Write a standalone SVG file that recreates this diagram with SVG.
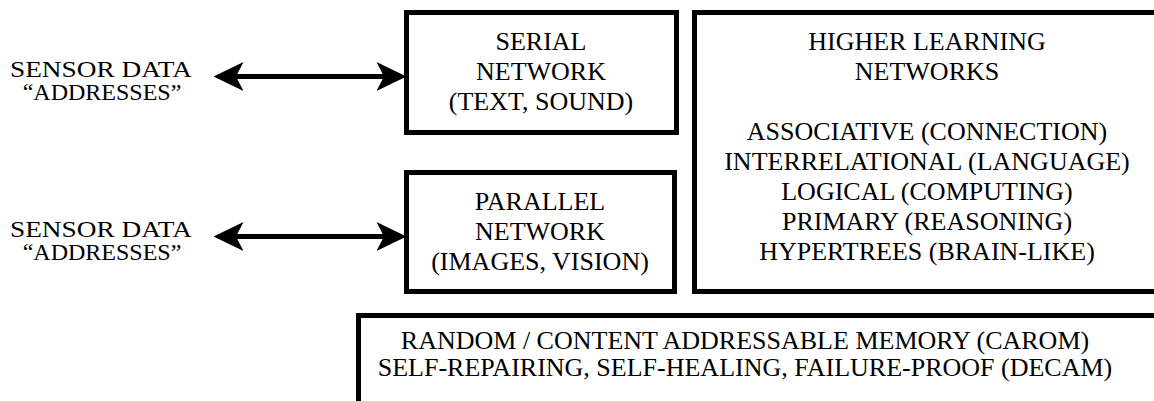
<svg xmlns="http://www.w3.org/2000/svg" width="1154" height="401" viewBox="0 0 1154 401">
<style>
.box{fill:#fff;stroke:#000;stroke-width:5}
.t{font-family:"Liberation Serif","Times New Roman",serif;font-size:26px;fill:#000;text-anchor:middle}
.lbl{font-family:"Liberation Serif","Times New Roman",serif;font-size:24px;fill:#000;text-anchor:middle}
.conn{stroke:#000;stroke-width:5;fill:none}
</style>
<defs>
<marker id="ah" markerUnits="userSpaceOnUse" markerWidth="30" markerHeight="30" viewBox="0 0 28 27" refX="7" refY="13.5" orient="auto-start-reverse">
<path d="M0,0 L28,13.5 L0,27 L7,13.5 Z" fill="#000"/>
</marker>
</defs>
<rect width="1154" height="401" fill="#fff"/>
<g id="sensor1">
<text class="lbl" x="101" y="77" textLength="182" lengthAdjust="spacingAndGlyphs">SENSOR DATA</text>
<text class="lbl" x="102" y="100">“ADDRESSES”</text>
</g>
<g id="sensor2">
<text class="lbl" x="101" y="237" textLength="182" lengthAdjust="spacingAndGlyphs">SENSOR DATA</text>
<text class="lbl" x="102" y="260">“ADDRESSES”</text>
</g>
<g id="serial">
<rect class="box" x="406.5" y="12.5" width="270" height="120"/>
<text class="t" x="541" y="49.5">SERIAL</text>
<text class="t" x="541" y="79.5">NETWORK</text>
<text class="t" x="541" y="109.5">(TEXT, SOUND)</text>
</g>
<g id="parallel">
<rect class="box" x="406.5" y="172.5" width="268" height="119"/>
<text class="t" x="540" y="209.5">PARALLEL</text>
<text class="t" x="540" y="239.5">NETWORK</text>
<text class="t" x="540" y="269.5">(IMAGES, VISION)</text>
</g>
<g id="higher">
<rect class="box" x="694.5" y="12.5" width="480" height="279"/>
<text class="t" x="927" y="49.5">HIGHER LEARNING</text>
<text class="t" x="927" y="79.5">NETWORKS</text>
<text class="t" x="927" y="139.5">ASSOCIATIVE (CONNECTION)</text>
<text class="t" x="927" y="169.5">INTERRELATIONAL (LANGUAGE)</text>
<text class="t" x="927" y="199.5">LOGICAL (COMPUTING)</text>
<text class="t" x="927" y="229.5">PRIMARY (REASONING)</text>
<text class="t" x="927" y="259.5">HYPERTREES (BRAIN-LIKE)</text>
</g>
<g id="memory">
<rect class="box" x="358.5" y="315.5" width="830" height="120"/>
<text class="t" x="745" y="349">RANDOM / CONTENT ADDRESSABLE MEMORY (CAROM)</text>
<text class="t" x="745" y="376">SELF-REPAIRING, SELF-HEALING, FAILURE-PROOF (DECAM)</text>
</g>
<g id="connectors">
<line class="conn" x1="236" y1="76.5" x2="384" y2="76.5" marker-start="url(#ah)" marker-end="url(#ah)"/>
<line class="conn" x1="236" y1="236.5" x2="384" y2="236.5" marker-start="url(#ah)" marker-end="url(#ah)"/>
</g>
</svg>
